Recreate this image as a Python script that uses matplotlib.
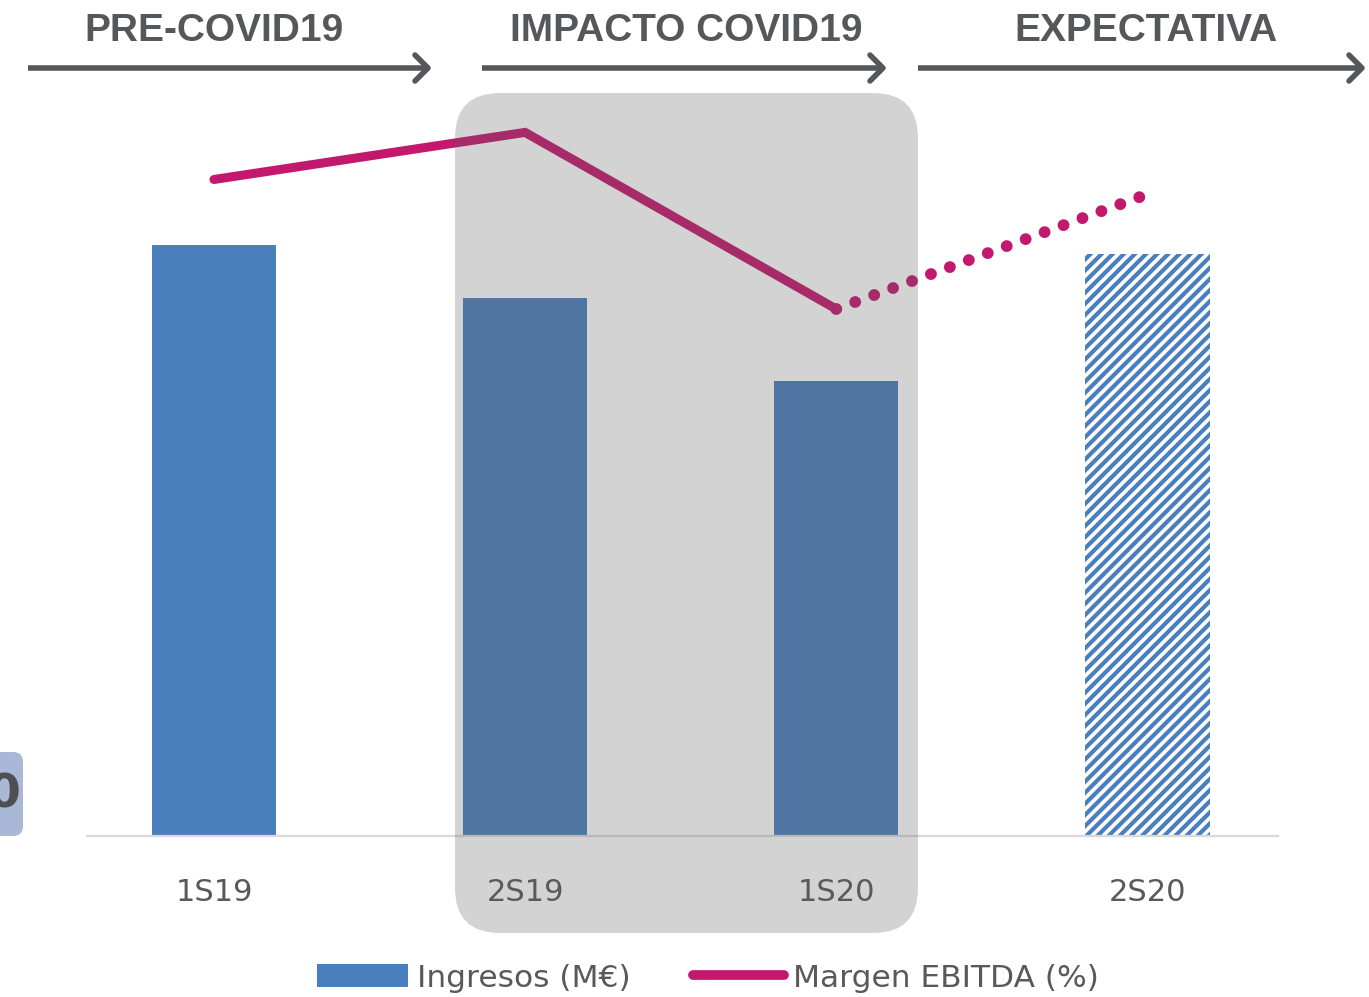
import matplotlib
matplotlib.use("Agg")
import matplotlib.pyplot as plt
from matplotlib.patches import FancyBboxPatch, Patch
from matplotlib.lines import Line2D

# ===== Data =====
periodos = ["1S19", "2S19", "1S20", "2S20"]
ingresos = [80.3, 73.1, 61.8, 79.1]          # M€ (escala relativa)
margen_real = [22.3, 23.9, 17.9]             # % 1S19..1S20
margen_exp = [17.9, 21.8]                    # % 1S20 -> 2S20 (expectativa)
fases = ["PRE-COVID19", "IMPACTO COVID19", "EXPECTATIVA"]

BLUE = "#4a7fbd"
MAGENTA = "#c2186e"
DARK = "#55585a"
W, H = 1369, 997

plt.rcParams["hatch.linewidth"] = 3.0
fig = plt.figure(figsize=(W / 100, H / 100), dpi=100)

# main axes: pixel box x 87..1278, y 100..836
ax = fig.add_axes([87 / W, 1 - 836 / H, (1278 - 87) / W, (836 - 100) / H])
x = list(range(len(periodos)))
colors = [BLUE, BLUE, BLUE, "white"]
bars = ax.bar(x, ingresos, width=0.4, color=colors, linewidth=0, zorder=2)
bars[3].set_hatch("///")
bars[3].set_edgecolor(BLUE)
ax.set_xlim(-0.408, 3.42)
ax.set_ylim(0, 100)
ax.set_yticks([])
ax.set_xticks(x)
ax.set_xticklabels(periodos, fontsize=22, color="#595959")
ax.tick_params(axis="x", length=0, pad=30)
for s in ["top", "left", "right"]:
    ax.spines[s].set_visible(False)
ax.spines["bottom"].set_color("#d9d9d9")
ax.spines["bottom"].set_linewidth(1.6)

ax2 = ax.twinx()
ax2.set_ylim(0, 25)
ax2.axis("off")
ax2.plot(x[:3], margen_real, color=MAGENTA, lw=6.5, solid_capstyle="round",
         solid_joinstyle="miter", zorder=3)
ax2.plot(x[2:], margen_exp, color=MAGENTA, lw=8.5, linestyle=(0, (0.01, 1.70)),
         dash_capstyle="round", zorder=3)

# overlay in figure pixels
ov = fig.add_axes([0, 0, 1, 1])
ov.set_xlim(0, W)
ov.set_ylim(H, 0)
ov.axis("off")
ov.patch.set_alpha(0)

# shaded COVID impact box
ov.add_patch(FancyBboxPatch((455 + 45, 93 + 45), 463 - 90, 840 - 90,
                            boxstyle="round,pad=45", facecolor="#5d5d5d",
                            edgecolor="none", alpha=0.265, zorder=5))

# phase headers with arrows
arrows = [(28, 428), (482, 883), (918, 1362)]
centers = [214, 686, 1146]
for name, (x0, x1), cx in zip(fases, arrows, centers):
    ov.text(cx, 31, name, ha="center", va="center", fontsize=28,
            fontweight="bold", color=DARK, family=["Liberation Sans", "DejaVu Sans"])
    ov.plot([x0, x1 - 2], [68, 68], color=DARK, lw=4, solid_capstyle="butt")
    ov.plot([x1 - 13, x1, x1 - 13], [55, 68, 81], color=DARK, lw=4,
            solid_capstyle="round", solid_joinstyle="round")

# cropped element at left edge
ov.add_patch(FancyBboxPatch((-40, 754), 61, 80, boxstyle="round,pad=2,rounding_size=10",
                            facecolor="#a9b8d6", edgecolor="none", zorder=1))
ov.text(-12, 795, "0", ha="left", va="center", fontsize=34, fontweight="bold",
        color="#4d4f52", zorder=2)

# legend
handles = [Patch(facecolor=BLUE, edgecolor="none"),
           Line2D([0], [0], color=MAGENTA, lw=7, solid_capstyle="round")]
fig.legend(handles, ["Ingresos (M€)", "Margen EBITDA (%)"], loc="center",
           bbox_to_anchor=(708 / W, 1 - 978 / H), ncol=2, frameon=False,
           fontsize=22.5, handlelength=2.9, handleheight=0.75, handletextpad=0.3,
           columnspacing=2.0, labelcolor="#595959")

fig.savefig("out.png", dpi=100, facecolor="white")
